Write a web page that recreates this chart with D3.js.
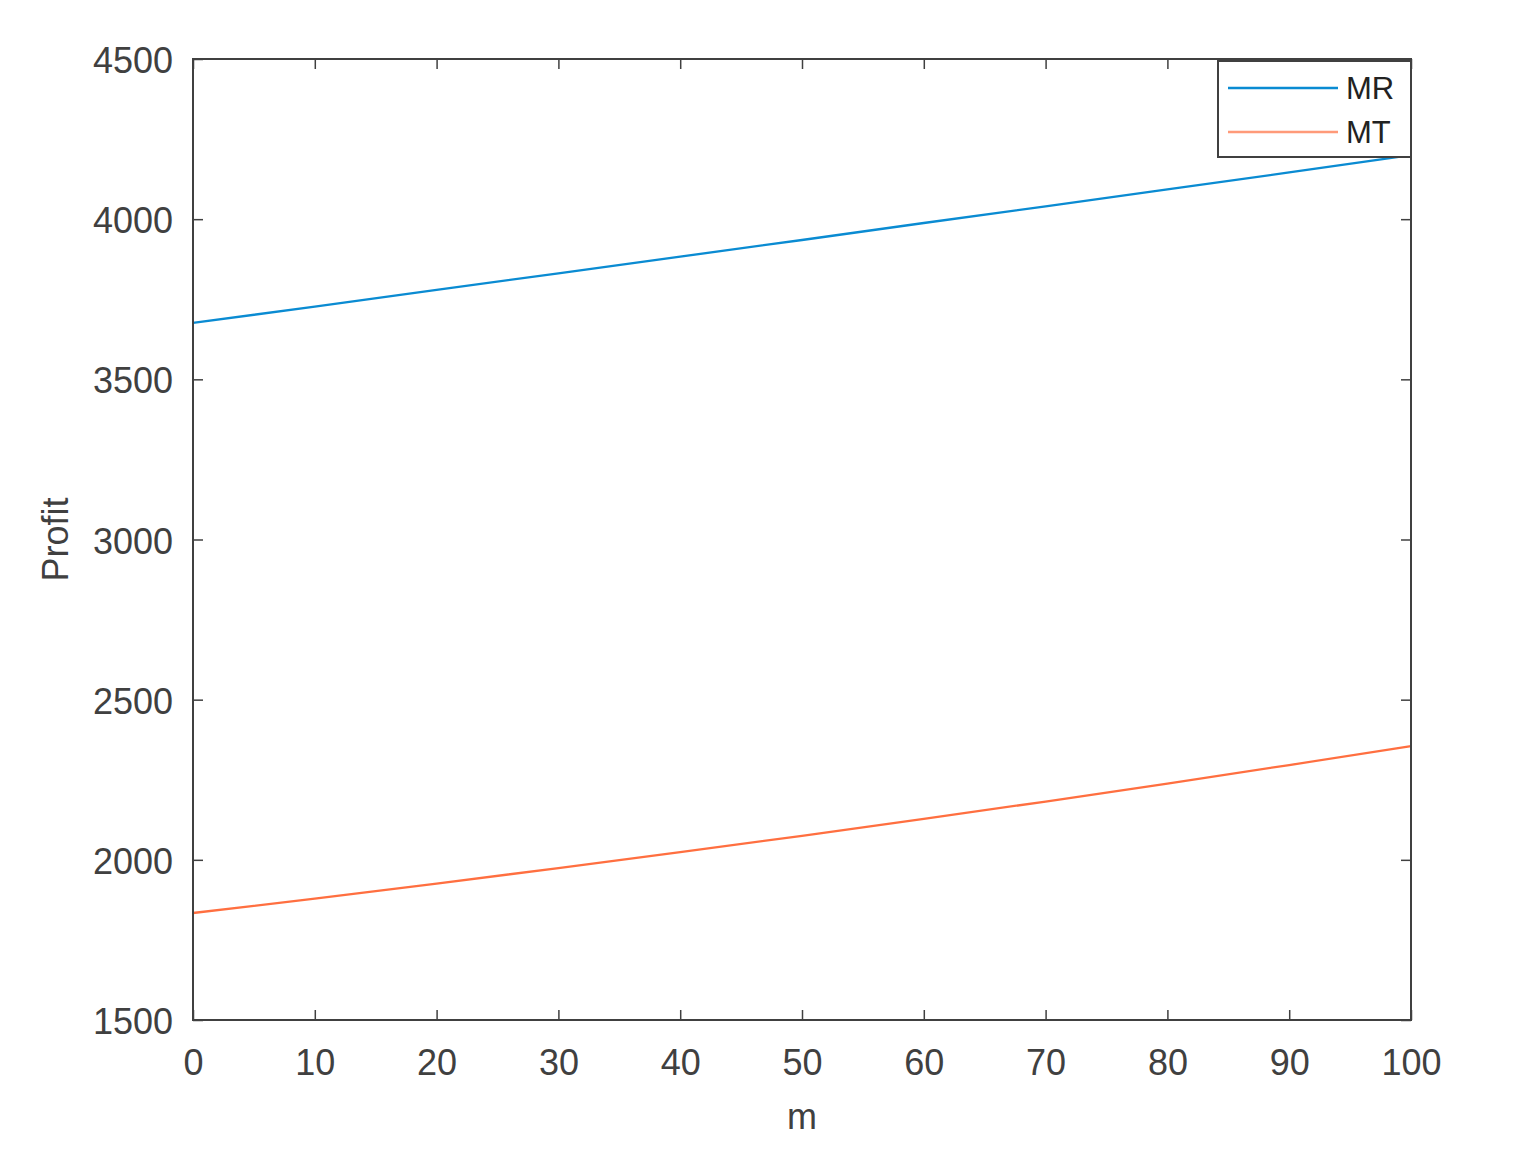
<!DOCTYPE html>
<html lang="en">
<head>
  <meta charset="UTF-8">
  <title>Profit vs m</title>
  <script src="https://d3js.org/d3.v7.min.js"></script>
  <style>
    body { margin: 0; background: #fff; }
    svg text { font-family: "Liberation Sans", Arial, Helvetica, sans-serif; }
  </style>
</head>
<body>
  <script>
    "use strict";
    // data
    var mValues = [0, 10, 20, 30, 40, 50, 60, 70, 80, 90, 100];
    var mrProfit = [3676, 3727, 3779, 3831, 3883, 3935, 3988, 4040, 4093, 4146, 4200];
    var mtProfit = [1834, 1879, 1926, 1974, 2024, 2075, 2128, 2182, 2238, 2296, 2355];
    var xTicks = [0, 10, 20, 30, 40, 50, 60, 70, 80, 90, 100];
    var yTicks = [1500, 2000, 2500, 3000, 3500, 4000, 4500];
    var seriesNames = ["MR", "MT"];
    var seriesColors = ["#0a8bd2", "#ff6f40"];

    var W = 1536, H = 1164;
    var plotL = 193, plotR = 1411, plotT = 59, plotB = 1020;
    var axisColor = "#404040";
    var fontSize = 36;
    var fmt = d3.format("d");

    var svg = d3.select("body").append("svg")
      .attr("width", W)
      .attr("height", H);

    var x = d3.scaleLinear().domain([0, 100]).range([plotL, plotR]);
    var y = d3.scaleLinear().domain([1500, 4500]).range([plotB, plotT]);

    // lines
    var line = d3.line()
      .x(function (d) { return x(d[0]); })
      .y(function (d) { return y(d[1]); });

    var series = [mrProfit, mtProfit].map(function (vals) {
      return mValues.map(function (m, i) { return [m, vals[i]]; });
    });

    svg.selectAll("path.series")
      .data(series)
      .enter().append("path")
      .attr("class", "series")
      .attr("fill", "none")
      .attr("stroke", function (d, i) { return seriesColors[i]; })
      .attr("stroke-width", 2.3)
      .attr("d", line);

    // axes (ticks point inward, mirrored on top/right like the original)
    function styleAxis(g) {
      g.select(".domain").remove();
      g.selectAll(".tick line").attr("stroke", axisColor).attr("stroke-width", 1.5);
      g.selectAll(".tick text")
        .attr("fill", axisColor)
        .attr("font-size", fontSize);
    }

    svg.append("g")
      .attr("transform", "translate(0," + plotB + ")")
      .call(d3.axisBottom(x).tickValues(xTicks).tickFormat(fmt).tickSizeInner(-10).tickSizeOuter(0).tickPadding(29))
      .call(styleAxis);

    svg.append("g")
      .attr("transform", "translate(0," + plotT + ")")
      .call(d3.axisTop(x).tickValues(xTicks).tickSizeInner(-10).tickSizeOuter(0).tickFormat(""))
      .call(styleAxis);

    svg.append("g")
      .attr("transform", "translate(" + plotL + ",2)")
      .call(d3.axisLeft(y).tickValues(yTicks).tickFormat(fmt).tickSizeInner(-10).tickSizeOuter(0).tickPadding(20))
      .call(styleAxis)
      .selectAll(".tick line").attr("transform", "translate(0,-2)");

    svg.append("g")
      .attr("transform", "translate(" + plotR + ",0)")
      .call(d3.axisRight(y).tickValues(yTicks).tickSizeInner(-10).tickSizeOuter(0).tickFormat(""))
      .call(styleAxis);

    // box
    svg.append("rect")
      .attr("x", plotL)
      .attr("y", plotT)
      .attr("width", plotR - plotL)
      .attr("height", plotB - plotT)
      .attr("fill", "none")
      .attr("stroke", axisColor)
      .attr("stroke-width", 2);

    // axis labels
    svg.append("text")
      .attr("x", (plotL + plotR) / 2)
      .attr("y", 1129)
      .attr("text-anchor", "middle")
      .attr("fill", axisColor)
      .attr("font-size", fontSize)
      .text("m");

    svg.append("text")
      .attr("transform", "translate(68," + (plotT + plotB) / 2 + ") rotate(-90)")
      .attr("text-anchor", "middle")
      .attr("fill", axisColor)
      .attr("font-size", fontSize)
      .text("Profit");

    // legend
    var leg = svg.append("g").attr("transform", "translate(1218,61)");
    leg.append("rect")
      .attr("width", 193)
      .attr("height", 96)
      .attr("fill", "#fff")
      .attr("stroke", axisColor)
      .attr("stroke-width", 2);

    seriesNames.forEach(function (name, i) {
      var cy = 27 + i * 44;
      leg.append("line")
        .attr("x1", 10).attr("x2", 120)
        .attr("y1", cy).attr("y2", cy)
        .attr("stroke", seriesColors[i])
        .attr("stroke-width", 2.3)
        .attr("stroke-opacity", i === 1 ? 0.7 : 1);
      leg.append("text")
        .attr("x", 128)
        .attr("y", cy + 11)
        .attr("fill", "#222")
        .attr("font-size", 31)
        .text(name);
    });
  </script>
</body>
</html>
